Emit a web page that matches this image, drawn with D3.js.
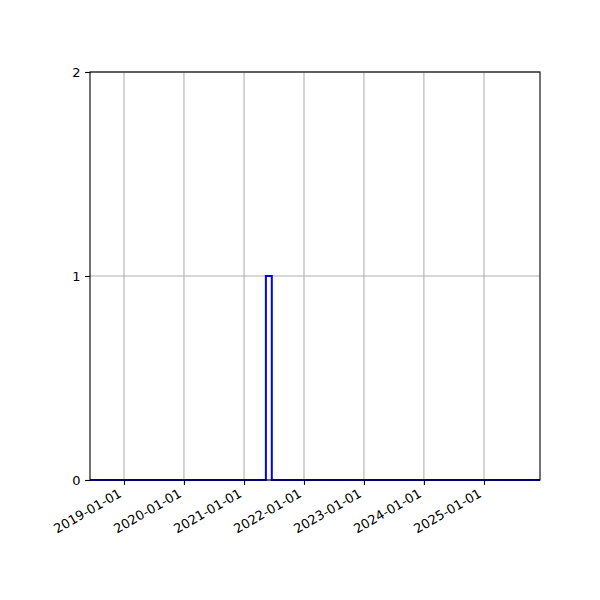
<!DOCTYPE html>
<html>
<head>
<meta charset="utf-8">
<script src="https://cdn.jsdelivr.net/npm/d3@7"></script>
<style>
  body { margin: 0; background: #fff; }
  text { font-family: "DejaVu Sans", sans-serif; font-size: 13px; fill: #000; }
</style>
</head>
<body>
<div id="chart"></div>
<script>
// histogram bin edges and counts, drawn as a step outline
const binEdges = ["2018-06-08", "2021-05-14", "2021-06-19", "2025-12-08"];
const counts = [0, 1, 0];
const xTickDates = ["2019-01-01", "2020-01-01", "2021-01-01", "2022-01-01", "2023-01-01", "2024-01-01", "2025-01-01"];
const yTicks = [0, 1, 2];

const width = 600, height = 600;
const margin = { top: 72, right: 60, bottom: 120, left: 90 };
const parse = d3.utcParse("%Y-%m-%d");

const svg = d3.select("#chart").append("svg")
    .attr("width", width)
    .attr("height", height);

const x = d3.scaleUtc()
    .domain([parse(binEdges[0]), parse(binEdges[binEdges.length - 1])])
    .range([margin.left, width - margin.right]);

const y = d3.scaleLinear()
    .domain([0, 2])
    .range([height - margin.bottom, margin.top]);

// grid lines
const grid = svg.append("g");
grid.selectAll("line.vx")
    .data(xTickDates)
    .enter().append("line")
    .attr("x1", d => x(parse(d))).attr("x2", d => x(parse(d)))
    .attr("y1", margin.top).attr("y2", height - margin.bottom)
    .attr("stroke", "#b0b0b0").attr("stroke-width", 1.1);
grid.selectAll("line.hy")
    .data(yTicks)
    .enter().append("line")
    .attr("x1", margin.left).attr("x2", width - margin.right)
    .attr("y1", d => y(d)).attr("y2", d => y(d))
    .attr("stroke", "#b0b0b0").attr("stroke-width", 1.1);

// step outline
const pts = [];
counts.forEach((c, i) => {
    pts.push([parse(binEdges[i]), c]);
    pts.push([parse(binEdges[i + 1]), c]);
});
const line = d3.line()
    .x(d => x(d[0]))
    .y(d => y(d[1]));
svg.append("path")
    .datum(pts)
    .attr("d", line)
    .attr("fill", "none")
    .attr("stroke", "blue")
    .attr("stroke-width", 2);

// frame
svg.append("rect")
    .attr("x", margin.left).attr("y", margin.top)
    .attr("width", width - margin.left - margin.right)
    .attr("height", height - margin.bottom - margin.top)
    .attr("fill", "none").attr("stroke", "#000").attr("stroke-width", 1.1);

// axes
const xAxis = svg.append("g")
    .attr("transform", `translate(0,${height - margin.bottom})`)
    .call(d3.axisBottom(x)
        .tickValues(xTickDates.map(parse))
        .tickFormat(d3.utcFormat("%Y-%m-%d"))
        .tickSize(4.9));
xAxis.select(".domain").remove();
xAxis.selectAll(".tick text")
    .attr("text-anchor", "end")
    .attr("x", 0).attr("y", 0).attr("dy", 0)
    .attr("transform", "translate(-2,16) rotate(-30)");

const yAxis = svg.append("g")
    .attr("transform", `translate(${margin.left},0)`)
    .call(d3.axisLeft(y).tickValues(yTicks).tickFormat(d3.format("d")).tickSize(4.9).tickPadding(4.5));
yAxis.select(".domain").remove();
svg.selectAll(".tick line").attr("stroke", "#000").attr("stroke-width", 1.1);
svg.selectAll(".tick text").style("font-family", "DejaVu Sans").style("font-size", "13px");
</script>
</body>
</html>
